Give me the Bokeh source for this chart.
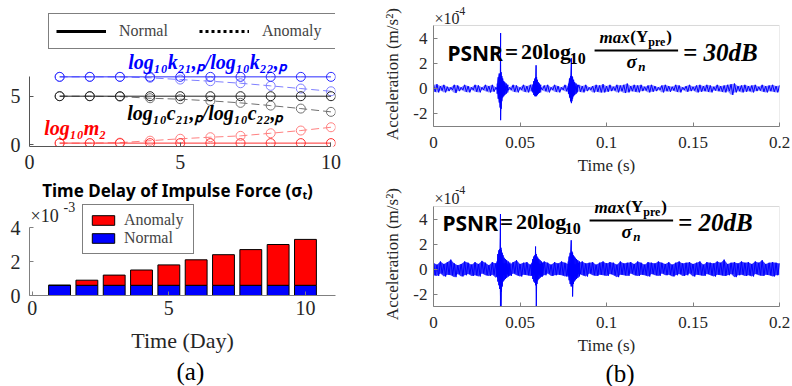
from bokeh.plotting import figure
from bokeh.layouts import row, column
from bokeh.models import (Range1d, FixedTicker, CustomJSTickFormatter, Label,
                          Legend, LegendItem, BoxAnnotation, Title)
from bokeh.embed import file_html
from bokeh.resources import INLINE

# ---------------- data ----------------
# (a) top: parameters vs time delay of impulse force
sigma_t = [1, 2, 3, 4, 5, 6, 7, 8, 9, 10]
k_normal = [7.0, 7.0, 7.0, 7.0, 7.0, 7.0, 7.0, 7.0, 7.0, 7.0]
k_anomaly = [7.0, 7.0, 7.0, 6.9, 6.72, 6.55, 6.34, 6.07, 5.79, 5.51]
c_normal = [5.0, 5.0, 5.0, 5.0, 5.0, 5.0, 5.0, 5.0, 5.0, 5.0]
c_anomaly = [5.0, 5.0, 4.96, 4.79, 4.69, 4.52, 4.31, 4.03, 3.72, 3.38]
m_normal = [0.15, 0.15, 0.15, 0.15, 0.15, 0.15, 0.15, 0.15, 0.15, 0.15]
m_anomaly = [0.15, 0.15, 0.2, 0.4, 0.6, 0.76, 0.9, 1.17, 1.45, 1.79]

# (a) bottom: bars (units of 1e-3)
days = [1, 2, 3, 4, 5, 6, 7, 8, 9, 10]
bar_normal = [0.6, 0.6, 0.6, 0.6, 0.6, 0.6, 0.6, 0.6, 0.6, 0.6]
bar_anomaly = [0.6, 0.9, 1.2, 1.5, 1.8, 2.1, 2.4, 2.7, 3.0, 3.3]

# (b) acceleration signals (units of 1e-4): noise peaks at even ms, troughs at odd ms
peak_t_ms = list(range(0, 201, 2))
trough_t_ms = list(range(1, 202, 2))
top_hi = [0.3, 0.35, 0.2, 0.3, 0.15, 0.1, 0.3, 0.25, 0.1, 0.3,
          0.2, 0.1, 0.3, 0.25, 0.1, 0.3, 0.2, 0.3, 0.1, 0.3,
          0.35, 0.2, 0.1, 0.3, 0.25, 0.1, 0.3, 0.2, 0.3, 0.4,
          0.3, 0.1, 0.25, 0.3, 0.1, 0.3, 0.2, 0.1, 0.3, 0.2,
          0.35, 0.15, 0.3, 0.2, 0.3, 0.1, 0.2, 0.3, 0.25, 0.35,
          0.2, 0.3, 0.15, 0.3, 0.25, 0.3, 0.4, 0.2, 0.3, 0.25,
          0.3, 0.15, 0.25, 0.3, 0.2, 0.1, 0.25, 0.3, 0.2, 0.15,
          0.3, 0.25, 0.1, 0.2, 0.3, 0.15, 0.25, 0.3, 0.2, 0.3,
          0.25, 0.15, 0.3, 0.2, 0.25, 0.3, 0.35, 0.4, 0.2, 0.25,
          0.3, 0.2, 0.25, 0.3, 0.15, 0.3, 0.2, 0.25, 0.3, 0.2, 0.25]
top_lo = [-0.25, -0.3, -0.15, -0.3, -0.2, -0.1, -0.35, -0.2, -0.1, -0.25,
          -0.3, -0.1, -0.25, -0.3, -0.1, -0.2, -0.3, -0.25, -0.1, -0.3,
          -0.3, -0.15, -0.1, -0.25, -0.3, -0.1, -0.25, -0.3, -0.2, -0.3,
          -0.35, -0.1, -0.2, -0.3, -0.1, -0.25, -0.3, -0.1, -0.2, -0.3,
          -0.3, -0.1, -0.25, -0.3, -0.2, -0.1, -0.3, -0.25, -0.3, -0.3,
          -0.25, -0.2, -0.15, -0.3, -0.2, -0.35, -0.3, -0.2, -0.25, -0.3,
          -0.2, -0.15, -0.3, -0.25, -0.2, -0.1, -0.3, -0.2, -0.25, -0.15,
          -0.25, -0.3, -0.1, -0.25, -0.2, -0.15, -0.3, -0.25, -0.2, -0.25,
          -0.3, -0.15, -0.2, -0.25, -0.3, -0.2, -0.5, -0.3, -0.2, -0.3,
          -0.25, -0.2, -0.3, -0.2, -0.15, -0.25, -0.3, -0.2, -0.25, -0.3, -0.2]
bot_hi = [0.5, 0.35, 0.6, 0.4, 0.55, 0.75, 0.45, 0.3, 0.4, 0.6,
          0.5, 0.35, 0.55, 0.4, 0.65, 0.5, 0.3, 0.55, 0.45, 0.6,
          0.45, 0.5, 0.35, 0.55, 0.7, 0.4, 0.5, 0.55, 0.35, 0.6,
          0.5, 0.4, 0.6, 0.5, 0.35, 0.55, 0.45, 0.6, 0.5, 0.4,
          0.55, 0.35, 0.5, 0.6, 0.45, 0.5, 0.55, 0.35, 0.5, 0.6,
          0.45, 0.55, 0.5, 0.35, 0.6, 0.45, 0.5, 0.55, 0.4, 0.6,
          0.5, 0.35, 0.55, 0.5, 0.45, 0.6, 0.5, 0.4, 0.55, 0.35,
          0.5, 0.6, 0.45, 0.5, 0.55, 0.4, 0.5, 0.6, 0.35, 0.55,
          0.5, 0.45, 0.6, 0.5, 0.75, 0.4, 0.5, 0.55, 0.45, 0.6,
          0.5, 0.55, 0.4, 0.6, 0.5, 0.7, 0.4, 0.5, 0.55, 0.5, 0.45]
bot_lo = [-0.5, -0.55, -0.35, -0.6, -0.45, -0.5, -0.65, -0.4, -0.6, -0.5,
          -0.4, -0.55, -0.5, -0.6, -0.35, -0.5, -0.55, -0.45, -0.7, -0.5,
          -0.5, -0.4, -0.55, -0.35, -0.5, -0.6, -0.45, -0.5, -0.55, -0.5,
          -0.4, -0.6, -0.5, -0.35, -0.55, -0.5, -0.45, -0.5, -0.6, -0.5,
          -0.5, -0.55, -0.4, -0.5, -0.6, -0.35, -0.5, -0.55, -0.45, -0.5,
          -0.55, -0.4, -0.5, -0.65, -0.45, -0.5, -0.55, -0.35, -0.5, -0.55,
          -0.45, -0.5, -0.6, -0.4, -0.5, -0.55, -0.35, -0.5, -0.45, -0.6,
          -0.5, -0.4, -0.55, -0.5, -0.35, -0.6, -0.45, -0.5, -0.55, -0.4,
          -0.5, -0.6, -0.45, -0.5, -0.55, -0.5, -0.4, -0.65, -0.5, -0.45,
          -0.55, -0.5, -0.6, -0.4, -0.5, -0.55, -0.45, -0.5, -0.6, -0.5, -0.45]

# bursts caused by the three impulses: (time ms, upper, lower)
top_b1_t = [36.8, 37.4, 38.0, 38.5, 38.8, 39.1, 39.5, 40.0, 40.6, 41.2, 42.0, 43.0]
top_b1_hi = [0.4, 0.9, 1.2, 1.1, 4.4, 1.3, 1.0, 0.8, 0.6, 0.5, 0.4, 0.3]
top_b1_lo = [-0.4, -0.8, -1.1, -1.5, -2.5, -1.6, -1.0, -0.7, -0.6, -0.5, -0.4, -0.3]
top_b2_t = [57.4, 58.0, 58.6, 59.0, 59.3, 59.6, 60.0, 60.6, 61.2, 62.0]
top_b2_hi = [0.3, 0.6, 0.8, 0.9, 1.85, 0.9, 0.7, 0.5, 0.4, 0.3]
top_b2_lo = [-0.3, -0.5, -0.6, -0.6, -0.5, -0.6, -0.5, -0.4, -0.3, -0.3]
top_b3_t = [78.0, 78.6, 79.2, 79.7, 80.0, 80.4, 81.0, 81.6, 82.4, 83.2]
top_b3_hi = [0.4, 0.8, 1.0, 2.4, 1.0, 0.9, 0.7, 0.5, 0.4, 0.3]
top_b3_lo = [-0.4, -0.7, -1.0, -1.15, -1.0, -0.8, -0.6, -0.5, -0.4, -0.3]

bot_b1_t = [36.6, 37.2, 37.8, 38.3, 38.7, 39.0, 39.3, 39.7, 40.2, 40.8, 41.5, 42.3, 43.2, 44.2]
bot_b1_hi = [0.6, 1.2, 1.5, 1.6, 4.4, 1.7, 1.5, 1.3, 1.1, 0.9, 0.8, 0.7, 0.6, 0.5]
bot_b1_lo = [-0.6, -1.0, -1.3, -1.6, -3.4, -3.4, -1.8, -1.4, -1.0, -0.9, -0.8, -0.7, -0.6, -0.5]
bot_b2_t = [56.8, 57.4, 58.0, 58.6, 59.0, 59.4, 59.8, 60.3, 60.9, 61.6, 62.4, 63.2]
bot_b2_hi = [0.5, 0.8, 1.0, 1.1, 1.8, 1.2, 1.0, 0.9, 0.8, 0.7, 0.6, 0.5]
bot_b2_lo = [-0.5, -0.8, -1.0, -1.1, -1.3, -3.4, -1.2, -0.9, -0.8, -0.7, -0.6, -0.5]
bot_b3_t = [77.8, 78.4, 79.0, 79.6, 80.0, 80.4, 80.8, 81.3, 81.9, 82.6, 83.4, 84.4]
bot_b3_hi = [0.6, 1.0, 1.3, 2.3, 1.4, 1.3, 1.1, 1.0, 0.9, 0.8, 0.7, 0.6]
bot_b3_lo = [-0.6, -0.9, -1.2, -1.4, -1.3, -2.2, -1.2, -1.0, -0.9, -0.8, -0.7, -0.6]

# ---------------- helpers ----------------
SERIF = "Liberation Serif"
SANS = "Noto Sans"
TXT = "#262626"
NAN = float("nan")


def mapper(L, R, T, B, xr, yr):
    def f(px, py):
        return (xr[0] + (px - L) / (R - L) * (xr[1] - xr[0]),
                yr[1] - (py - T) / (B - T) * (yr[1] - yr[0]))
    return f


def lab(p, mp, px, py, text, size, font=SERIF, style="normal", color="black",
        align="left"):
    x, y = mp(px, py)
    p.add_layout(Label(x=x, y=y, text=text, text_font=font, text_font_size=size,
                       text_font_style=style, text_color=color, text_align=align,
                       text_baseline="middle"))


def style_axis(ax, size, color, standoff):
    ax.axis_line_color = color
    ax.major_tick_line_color = color
    ax.major_tick_in = 4
    ax.major_tick_out = 0
    ax.minor_tick_line_color = None
    ax.major_label_text_font = SERIF
    ax.major_label_text_font_size = size
    ax.major_label_text_color = TXT
    ax.major_label_standoff = standoff
    ax.formatter = CustomJSTickFormatter(code="return tick.toString();")


def base(p):
    p.xgrid.grid_line_color = None
    p.ygrid.grid_line_color = None
    p.background_fill_color = "white"
    p.border_fill_color = "white"
    p.outline_line_color = None


def zigzag(t_hi, hi, t_lo, lo):
    xs, ys = [], []
    for a, h, b, l in zip(t_hi, hi, t_lo, lo):
        xs += [a / 1000.0, b / 1000.0]
        ys += [h, l]
    return xs, ys


# ---------------- (a) top ----------------
A_xr, A_yr = (0, 10.15), (-0.2, 14.48)
pA = figure(width=380, height=178, x_range=Range1d(*A_xr), y_range=Range1d(*A_yr),
            output_backend="svg", toolbar_location=None,
            min_border_left=27, min_border_right=40, min_border_top=4, min_border_bottom=32)
base(pA)
style_axis(pA.xaxis[0], "20px", "#555555", 8)
style_axis(pA.yaxis[0], "20px", "#555555", 9)
pA.xaxis.ticker = FixedTicker(ticks=[0, 5, 10])
pA.yaxis.ticker = FixedTicker(ticks=[0, 5])
pA.xaxis.bounds = (0, 10)
pA.yaxis.bounds = (0, 7)
mA = mapper(27, 340, 4, 146, A_xr, A_yr)

series = [(k_normal, k_anomaly, "#2b2bff", "#7f7fff"),
          (c_normal, c_anomaly, "#222222", "#707070"),
          (m_normal, m_anomaly, "#ff3030", "#ff8080")]
for nrm, anm, c1, c2 in series:
    pA.line(sigma_t, anm, line_color=c2, line_width=1, line_dash="8 4")
    pA.scatter(sigma_t, anm, marker="circle", size=9, fill_color=None, line_color=c2)
    pA.line(sigma_t, nrm, line_color=c1, line_width=1)
    pA.scatter(sigma_t, nrm, marker="circle", size=9, fill_color=None, line_color=c1)

rN = pA.line(x=[NAN, NAN], y=[NAN, NAN], line_color="black", line_width=3)
rAn = pA.line(x=[NAN, NAN], y=[NAN, NAN], line_color="black", line_width=3, line_dash="3 3")
legA = Legend(items=[LegendItem(label="Normal", renderers=[rN]),
                     LegendItem(label="Anomaly", renderers=[rAn])],
              orientation="horizontal", location=(19, 97),
              padding=7, margin=0, spacing=14, glyph_width=50, glyph_height=20,
              label_height=20, label_width=66, label_standoff=13,
              label_text_font=SERIF, label_text_font_size="16px",
              border_line_color="black", border_line_width=1,
              background_fill_color="white", background_fill_alpha=1)
pA.add_layout(legA)

lab(pA, mA, 128, 61, "log₁₀k₂₁,ₚ/log₁₀k₂₂,ₚ", "20px", style="bold italic", color="#0000ff")
lab(pA, mA, 127, 112, "log₁₀c₂₁,ₚ/log₁₀c₂₂,ₚ", "20px", style="bold italic", color="black")
lab(pA, mA, 42, 127, "log₁₀m₂", "20px", style="bold italic", color="#ff0000")

# ---------------- (a) bottom ----------------
B_top = 178
B_xr, B_yr = (-0.1, 11.1), (0, (295 - B_top) / 17.0)
pB = figure(width=380, height=386 - B_top, x_range=Range1d(*B_xr), y_range=Range1d(*B_yr),
            output_backend="svg", toolbar_location=None,
            min_border_left=29, min_border_right=45, min_border_top=0, min_border_bottom=91)
base(pB)
style_axis(pB.xaxis[0], "20px", "#808080", 5)
style_axis(pB.yaxis[0], "20px", "#808080", 9)
pB.xaxis.ticker = FixedTicker(ticks=[0, 5, 10])
pB.yaxis.ticker = FixedTicker(ticks=[0, 2, 4])
pB.yaxis.bounds = (0, 4)
pB.xaxis.axis_label = "Time (Day)"
pB.xaxis.axis_label_text_font = SERIF
pB.xaxis.axis_label_text_font_size = "22px"
pB.xaxis.axis_label_text_font_style = "normal"
pB.xaxis.axis_label_text_color = TXT
pB.xaxis.axis_label_standoff = 10
mB = mapper(29, 335, B_top, 295, B_xr, B_yr)

rBlue = pB.vbar(x=days, width=0.8, bottom=0, top=bar_normal,
                fill_color="#0000ff", line_color="black", line_width=1)
rRed = pB.vbar(x=days, width=0.8, bottom=bar_normal, top=bar_anomaly,
               fill_color="#ff0000", line_color="black", line_width=1)
legB = Legend(items=[LegendItem(label="Anomaly", renderers=[rRed]),
                     LegendItem(label="Normal", renderers=[rBlue])],
              orientation="vertical", location=(53, 41),
              padding=6, margin=0, spacing=0, glyph_width=28, glyph_height=12,
              label_height=17, label_width=63, label_standoff=7,
              label_text_font=SERIF, label_text_font_size="16px",
              border_line_color="black", border_line_width=1,
              background_fill_color="white", background_fill_alpha=1)
pB.add_layout(legB)
lab(pB, mB, 177, 190, "Time Delay of Impulse Force (σₜ)", "17px", font=SANS,
    style="bold", color="black", align="center")
lab(pB, mB, 30, 215, "×10", "18px", color=TXT)
lab(pB, mB, 63, 206, "-3", "14px", color=TXT)
pB.add_layout(Title(text="(a)", align="left", offset=147, standoff=0,
                    text_font=SERIF, text_font_size="25px", text_font_style="normal",
                    text_color="black"), "below")

# ---------------- (b) ----------------
BOX = "#808080"
NBSP = "\u00a0"


def signal_fig(h, frame_top, frame_bot, ytop, pad):
    yr = (-3, ytop)
    p = figure(width=412, height=h, x_range=Range1d(0, 0.2), y_range=Range1d(*yr),
               output_backend="svg", toolbar_location=None,
               min_border_left=51, min_border_right=13,
               min_border_top=0, min_border_bottom=h - (frame_bot - frame_top))
    base(p)
    style_axis(p.xaxis[0], "17px", BOX, 10)
    style_axis(p.yaxis[0], "17px", BOX, 6)
    p.xaxis.ticker = FixedTicker(ticks=[0, 0.05, 0.1, 0.15, 0.2])
    p.yaxis.ticker = FixedTicker(ticks=[-2, 0, 2, 4])
    p.yaxis.bounds = (-3, 5)
    p.xaxis.axis_label = "Time (s)"
    p.yaxis.axis_label = "Acceleration (m/s²)" + NBSP * pad
    for ax in (p.xaxis[0], p.yaxis[0]):
        ax.axis_label_text_font = SERIF
        ax.axis_label_text_font_size = "17px"
        ax.axis_label_text_font_style = "normal"
        ax.axis_label_text_color = TXT
    p.xaxis.axis_label_standoff = 5
    p.yaxis.axis_label_standoff = 8
    p.add_layout(BoxAnnotation(left=0, right=0.2, bottom=-3, top=5, fill_alpha=0,
                               line_color=BOX, line_width=1))
    return p, mapper(431, 779, frame_top, frame_bot, (0, 0.2), yr)


def draw_signal(p, hi, lo, bursts, alpha):
    p.varea(x=[v / 1000.0 for v in peak_t_ms], y1=lo, y2=hi,
            fill_color="#0000ff", fill_alpha=alpha)
    xs, ys = zigzag(peak_t_ms, hi, trough_t_ms, lo)
    p.line(xs, ys, line_color="#0000ff", line_width=1)
    bx, by = [], []
    for bt, h, l in bursts:
        p.varea(x=[v / 1000.0 for v in bt], y1=l, y2=h, fill_color="#0000ff", fill_alpha=0.6)
        x, y = zigzag(bt, h, bt, l)
        bx.append(x)
        by.append(y)
    p.multi_line(bx, by, line_color="#0000ff", line_width=1)


def equation(p, mp, dx, dy, result):
    def L(px, py, text, size, font=SERIF, style="bold"):
        lab(p, mp, px + dx, py + dy, text, size, font=font, style=style, color="black")
    L(445, 52, "PSNR", "21px", font=SANS)
    L(503, 52, "=", "23px")
    L(519, 51, "20log", "22px")
    L(568, 58, "10", "16px")
    x0, y0 = mp(593 + dx, 49 + dy)
    x1, y1 = mp(677 + dx, 51 + dy)
    p.add_layout(BoxAnnotation(left=x0, right=x1, top=y0, bottom=y1,
                               fill_color="black", fill_alpha=1, line_color=None))
    L(598, 37, "max", "17px", style="bold italic")
    L(629, 36, "(Y", "17px")
    L(647, 41, "pre", "12px")
    L(665, 36, ")", "17px")
    L(625, 61, "σ", "19px", style="bold italic")
    L(637, 66, "n", "13px", style="bold italic")
    L(682, 52, result, "25px", style="bold italic")


pC, mC = signal_fig(180, 0, 126, 6.98, 5)
draw_signal(pC, top_hi, top_lo, [(top_b1_t, top_b1_hi, top_b1_lo),
                                 (top_b2_t, top_b2_hi, top_b2_lo),
                                 (top_b3_t, top_b3_hi, top_b3_lo)], 0.45)
equation(pC, mC, 0, 0, "= 30dB")
lab(pC, mC, 432, 17.5, "×10", "16px", color=TXT)
lab(pC, mC, 453, 10, "-4", "12px", color=TXT)

pD, mD = signal_fig(206, 180, 306, 7.08, 5)
draw_signal(pD, bot_hi, bot_lo, [(bot_b1_t, bot_b1_hi, bot_b1_lo),
                                 (bot_b2_t, bot_b2_hi, bot_b2_lo),
                                 (bot_b3_t, bot_b3_hi, bot_b3_lo)], 0.8)
equation(pD, mD, -5, 170, "= 20dB")
lab(pD, mD, 432, 198, "×10", "16px", color=TXT)
lab(pD, mD, 453, 189.5, "-4", "12px", color=TXT)
pD.add_layout(Title(text="(b)", align="left", offset=172, standoff=0,
                    text_font=SERIF, text_font_size="25px", text_font_style="normal",
                    text_color="black"), "below")

layout = row(column(pA, pB), column(pC, pD))
open("out.html", "w").write(file_html(layout, INLINE))
